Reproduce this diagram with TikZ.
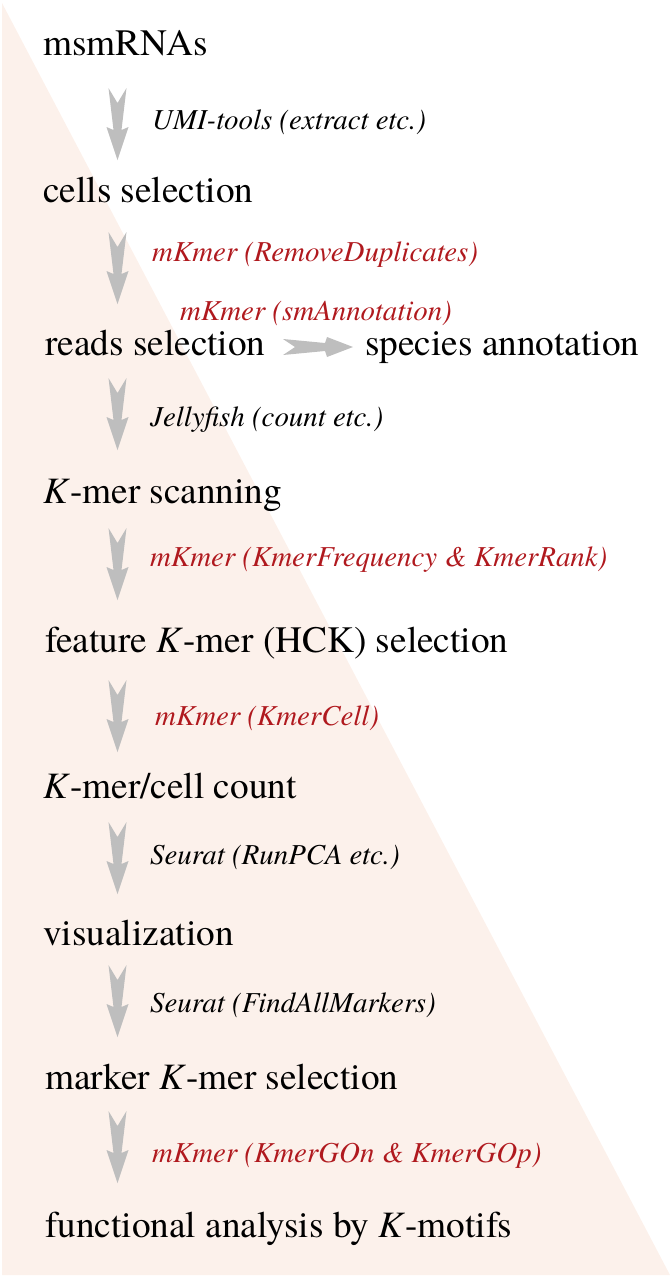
\documentclass[tikz,border=0pt]{standalone}
\usepackage{fontspec}
\setmainfont{texgyretermes}[Extension=.otf, UprightFont=*-regular, ItalicFont=*-italic, BoldFont=*-bold, BoldItalicFont=*-bolditalic]
\definecolor{tricol}{HTML}{FCF1EB}
\definecolor{arrgray}{HTML}{BEBEBE}
\definecolor{toolred}{HTML}{B0191E}
\tikzset{
  mainlbl/.style={inner sep=0pt, anchor=base west, font=\fontsize{37.4}{40}\selectfont},
  toollbl/.style={inner sep=0pt, anchor=base west, font=\fontsize{29}{32}\selectfont\itshape},
  redlbl/.style={toollbl, text=toolred},
  varrow/.pic={\fill[arrgray] (-9,0) -- (0,15) -- (9,0) -- (4,42) -- (11,39) -- (0,72) -- (-11,39) -- (-4,42) -- cycle;},
  harrow/.pic={\fill[arrgray] (0,-8) -- (12,0) -- (0,8) -- (42,4) -- (44,10) -- (70,0) -- (44,-10) -- (42,-4) -- cycle;}
}
\begin{document}
\begin{tikzpicture}[x=1bp,y=-1bp]
\useasboundingbox (0,0) rectangle (672,1278);
\fill[tricol] (2,3) -- (2,1275) -- (670,1275) -- cycle;

\node[mainlbl] (msm) at (43,55) {msmRNAs};
\node[mainlbl] (cells) at (43,202) {cells selection};
\node[mainlbl] (reads) at (45,355) {reads selection};
\node[mainlbl] (species) at (365,355) {species annotation};
\node[mainlbl] (kscan) at (43,503) {\textit{K}-mer scanning};
\node[mainlbl] (feature) at (45,652) {feature \textit{K}-mer (HCK) selection};
\node[mainlbl] (kcell) at (43,798) {\textit{K}-mer/cell count};
\node[mainlbl] (visual) at (43,945) {visualization};
\node[mainlbl] (marker) at (45,1089) {marker \textit{K}-mer selection};
\node[mainlbl] (func) at (45,1237) {functional analysis by \textit{K}-motifs};

\node[toollbl] (t1) at (152,129) {UMI-tools (extract etc.)};
\node[redlbl] (t2) at (152,261) {mKmer (RemoveDuplicates)};
\node[redlbl] (t3) at (180,320) {mKmer (smAnnotation)};
\node[toollbl] (t4) at (150,426) {Jellyfish (count etc.)};
\node[redlbl] (t5) at (150,566) {mKmer (KmerFrequency \& KmerRank)};
\node[redlbl] (t6) at (155,725) {mKmer (KmerCell)};
\node[toollbl] (t7) at (150,864) {Seurat (RunPCA etc.)};
\node[toollbl] (t8) at (150,1012) {Seurat (FindAllMarkers)};
\node[redlbl] (t9) at (152,1162) {mKmer (KmerGOn \& KmerGOp)};

\pic at (117.5,88) {varrow};
\pic at (117.5,232) {varrow};
\pic at (117.5,378) {varrow};
\pic at (117.5,528) {varrow};
\pic at (117.5,680) {varrow};
\pic at (117.5,822) {varrow};
\pic at (117.5,965) {varrow};
\pic at (117.5,1111) {varrow};
\pic at (283,347) {harrow};
\end{tikzpicture}
\end{document}
